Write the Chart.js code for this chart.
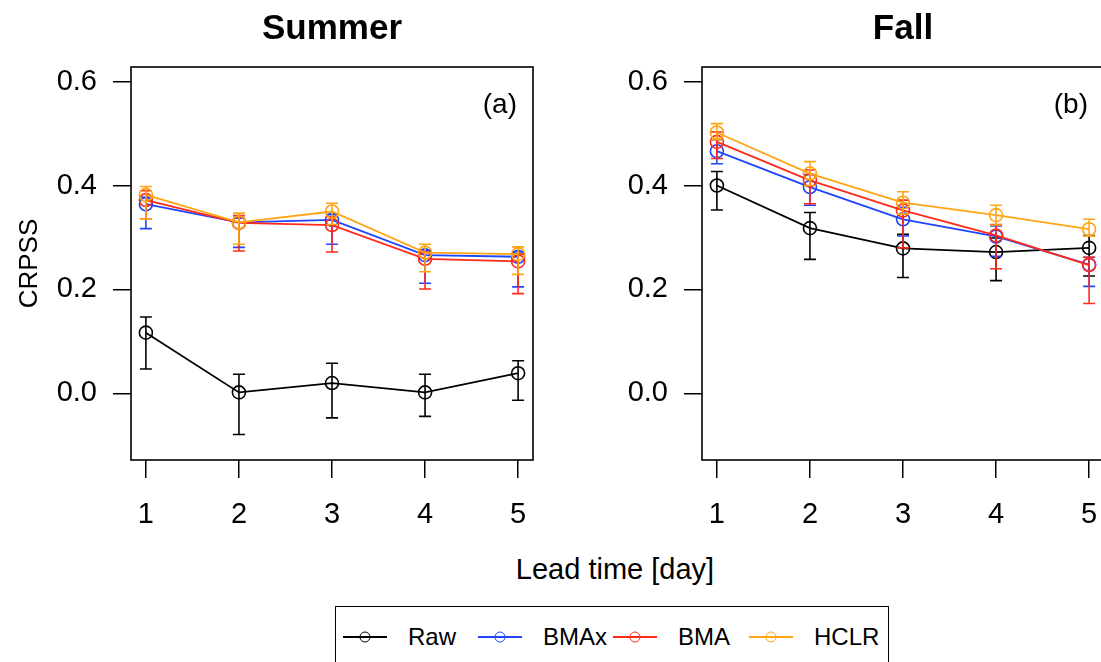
<!DOCTYPE html>
<html>
<head>
<meta charset="utf-8">
<script src="https://cdn.jsdelivr.net/npm/chart.js@4.4.1/dist/chart.umd.min.js"></script>
<style>
  html, body { margin: 0; padding: 0; background: #fff; }
  body { width: 1101px; height: 662px; overflow: hidden; position: relative;
         font-family: "Liberation Sans", Arial, Helvetica, sans-serif; color: #000; }
  canvas { position: absolute; top: 0; }
  #summer { left: 0; }
  #fall { left: 571px; }
  .xtitle { position: absolute; left: 615px; top: 569px; transform: translate(-50%, -50%);
            font-size: 29px; white-space: nowrap; }
  .legend { position: absolute; left: 335px; top: 606px; width: 554px; height: 80px;
            border: 1.5px solid #000; box-sizing: border-box; }
  .key { position: absolute; top: 29px; width: 44px; height: 1.6px; }
  .key i { position: absolute; left: 50%; top: 50%; width: 9px; height: 9px; border-radius: 50%;
           border: 1.5px solid; background: transparent; transform: translate(-50%, -50%); }
  .lab { position: absolute; top: 30px; transform: translateY(-50%); font-size: 24px; white-space: nowrap; }
</style>
</head>
<body>
<canvas id="summer" width="560" height="540"></canvas>
<canvas id="fall" width="560" height="540"></canvas>
<div class="xtitle">Lead time [day]</div>
<div class="legend" id="legend"></div>

<script>
// Lead times (days) and axis ticks
const leadDays = [1, 2, 3, 4, 5];
const yTickValues = [0, 0.2, 0.4, 0.6];
const seriesNames = ['Raw', 'BMAx', 'BMA', 'HCLR'];
const seriesColors = ['#000000', '#1f45fc', '#ff2a1a', '#ffa514'];

// Summer CRPSS with lower / upper bounds
const summerRaw      = [0.117, 0.002, 0.020, 0.002, 0.039];
const summerRawLow   = [0.047, -0.079, -0.047, -0.044, -0.013];
const summerRawHigh  = [0.147, 0.037, 0.058, 0.037, 0.063];
const summerBMAx     = [0.364, 0.329, 0.334, 0.266, 0.263];
const summerBMAxLow  = [0.317, 0.281, 0.287, 0.212, 0.205];
const summerBMAxHigh = [0.378, 0.337, 0.344, 0.275, 0.272];
const summerBMA      = [0.372, 0.328, 0.324, 0.259, 0.254];
const summerBMALow   = [0.335, 0.274, 0.272, 0.201, 0.192];
const summerBMAHigh  = [0.390, 0.342, 0.340, 0.272, 0.268];
const summerHCLR     = [0.382, 0.329, 0.350, 0.271, 0.268];
const summerHCLRLow  = [0.335, 0.287, 0.325, 0.234, 0.229];
const summerHCLRHigh = [0.398, 0.347, 0.366, 0.287, 0.282];

// Fall CRPSS with lower / upper bounds
const fallRaw      = [0.400, 0.318, 0.279, 0.272, 0.280];
const fallRawLow   = [0.353, 0.258, 0.223, 0.217, 0.226];
const fallRawHigh  = [0.427, 0.348, 0.306, 0.299, 0.304];
const fallBMAx     = [0.466, 0.397, 0.335, 0.302, 0.248];
const fallBMAxLow  = [0.442, 0.362, 0.303, 0.264, 0.206];
const fallBMAxHigh = [0.488, 0.421, 0.358, 0.322, 0.262];
const fallBMA      = [0.484, 0.410, 0.352, 0.304, 0.247];
const fallBMALow   = [0.452, 0.365, 0.280, 0.240, 0.173];
const fallBMAHigh  = [0.503, 0.430, 0.372, 0.325, 0.262];
const fallHCLR     = [0.502, 0.423, 0.367, 0.343, 0.316];
const fallHCLRLow  = [0.488, 0.400, 0.345, 0.324, 0.303];
const fallHCLRHigh = [0.519, 0.446, 0.388, 0.362, 0.335];

const FONT = '"Liberation Sans", Arial, Helvetica, sans-serif';
Chart.defaults.font.family = FONT;
Chart.defaults.color = '#000';

// Vertical interval bars with end caps, drawn right after each series
const intervalBars = {
  id: 'intervalBars',
  afterDatasetDraw(chart, args) {
    const ds = chart.data.datasets[args.index];
    const xs = chart.scales.x, ys = chart.scales.y, ctx = chart.ctx;
    ctx.save();
    ctx.strokeStyle = ds.borderColor;
    ctx.lineWidth = 1.6;
    ds.low.forEach((lo, i) => {
      const x = xs.getPixelForValue(leadDays[i]);
      const y1 = ys.getPixelForValue(lo);
      const y2 = ys.getPixelForValue(ds.high[i]);
      ctx.beginPath();
      ctx.moveTo(x, y1); ctx.lineTo(x, y2);
      ctx.moveTo(x - 6, y1); ctx.lineTo(x + 6, y1);
      ctx.moveTo(x - 6, y2); ctx.lineTo(x + 6, y2);
      ctx.stroke();
    });
    ctx.restore();
  }
};

// Frame around the plotting region and the panel tag in its corner
const panelFrame = {
  id: 'panelFrame',
  beforeDatasetsDraw(chart) {
    const a = chart.chartArea, ctx = chart.ctx;
    ctx.save();
    ctx.strokeStyle = '#000';
    ctx.lineWidth = 1.6;
    ctx.strokeRect(a.left, a.top, a.right - a.left, a.bottom - a.top);
    ctx.restore();
  },
  afterDraw(chart, args, opts) {
    const a = chart.chartArea, ctx = chart.ctx;
    ctx.save();
    ctx.fillStyle = '#000';
    ctx.font = '28px ' + FONT;
    ctx.textAlign = 'right';
    ctx.textBaseline = 'middle';
    ctx.fillText(opts.tag, a.right - 16, a.top + 38);
    ctx.restore();
  }
};

function makeSeries(values, low, high, k) {
  return {
    label: seriesNames[k],
    data: leadDays.map((d, i) => ({ x: d, y: values[i] })),
    low: low, high: high,
    borderColor: seriesColors[k],
    backgroundColor: 'rgba(0,0,0,0)',
    borderWidth: 1.8,
    pointRadius: 6.5,
    pointBorderWidth: 1.6,
    pointStyle: 'circle',
    tension: 0,
    order: 4 - k
  };
}

function makePanel(id, title, tag, series, showYTitle) {
  return new Chart(document.getElementById(id), {
    type: 'line',
    data: { datasets: series },
    plugins: [intervalBars, panelFrame],
    options: {
      responsive: false,
      animation: false,
      devicePixelRatio: 1,
      layout: { padding: { left: 0, right: 27, top: 0, bottom: 0 } },
      plugins: {
        legend: { display: false },
        tooltip: { enabled: false },
        panelFrame: { tag: tag },
        title: {
          display: true, text: title, fullSize: false, color: '#000',
          font: { size: 35, weight: 'bold', family: FONT },
          padding: { top: 8, bottom: 17 }
        }
      },
      scales: {
        x: {
          type: 'linear', min: 0.84, max: 5.16,
          afterBuildTicks(s) { s.ticks = leadDays.map(v => ({ value: v })); },
          afterFit(s) { s.height = 80; },
          ticks: { font: { size: 29 }, color: '#000', padding: 20, callback: v => String(v) },
          grid: { drawOnChartArea: false, drawTicks: true, tickLength: 18, color: '#000', lineWidth: 1.5 },
          border: { display: false }
        },
        y: {
          type: 'linear', min: -0.128, max: 0.628,
          afterBuildTicks(s) { s.ticks = yTickValues.map(v => ({ value: v })); },
          afterFit(s) { s.width = 131; },
          ticks: { font: { size: 29 }, color: '#000', padding: 16, callback: v => v.toFixed(1) },
          grid: { drawOnChartArea: false, drawTicks: true, tickLength: 18, color: '#000', lineWidth: 1.5 },
          border: { display: false },
          title: { display: showYTitle, text: 'CRPSS', color: '#000', font: { size: 26 }, padding: { top: 14 } }
        }
      }
    }
  });
}

makePanel('summer', 'Summer', '(a)', [
  makeSeries(summerRaw, summerRawLow, summerRawHigh, 0),
  makeSeries(summerBMAx, summerBMAxLow, summerBMAxHigh, 1),
  makeSeries(summerBMA, summerBMALow, summerBMAHigh, 2),
  makeSeries(summerHCLR, summerHCLRLow, summerHCLRHigh, 3)
], true);

makePanel('fall', 'Fall', '(b)', [
  makeSeries(fallRaw, fallRawLow, fallRawHigh, 0),
  makeSeries(fallBMAx, fallBMAxLow, fallBMAxHigh, 1),
  makeSeries(fallBMA, fallBMALow, fallBMAHigh, 2),
  makeSeries(fallHCLR, fallHCLRLow, fallHCLRHigh, 3)
], false);

// Legend row: line-and-circle keys with their labels
const legendKeys = [342, 477, 612, 748];
const legendLabels = [407, 542, 677, 813];
const legend = document.getElementById('legend');
seriesNames.forEach((name, k) => {
  const key = document.createElement('div');
  key.className = 'key';
  key.style.left = (legendKeys[k] - 335) + 'px';
  key.style.background = seriesColors[k];
  const dot = document.createElement('i');
  dot.style.borderColor = seriesColors[k];
  key.appendChild(dot);
  legend.appendChild(key);
  const lab = document.createElement('div');
  lab.className = 'lab';
  lab.style.left = (legendLabels[k] - 335) + 'px';
  lab.textContent = name;
  legend.appendChild(lab);
});
</script>
</body>
</html>
